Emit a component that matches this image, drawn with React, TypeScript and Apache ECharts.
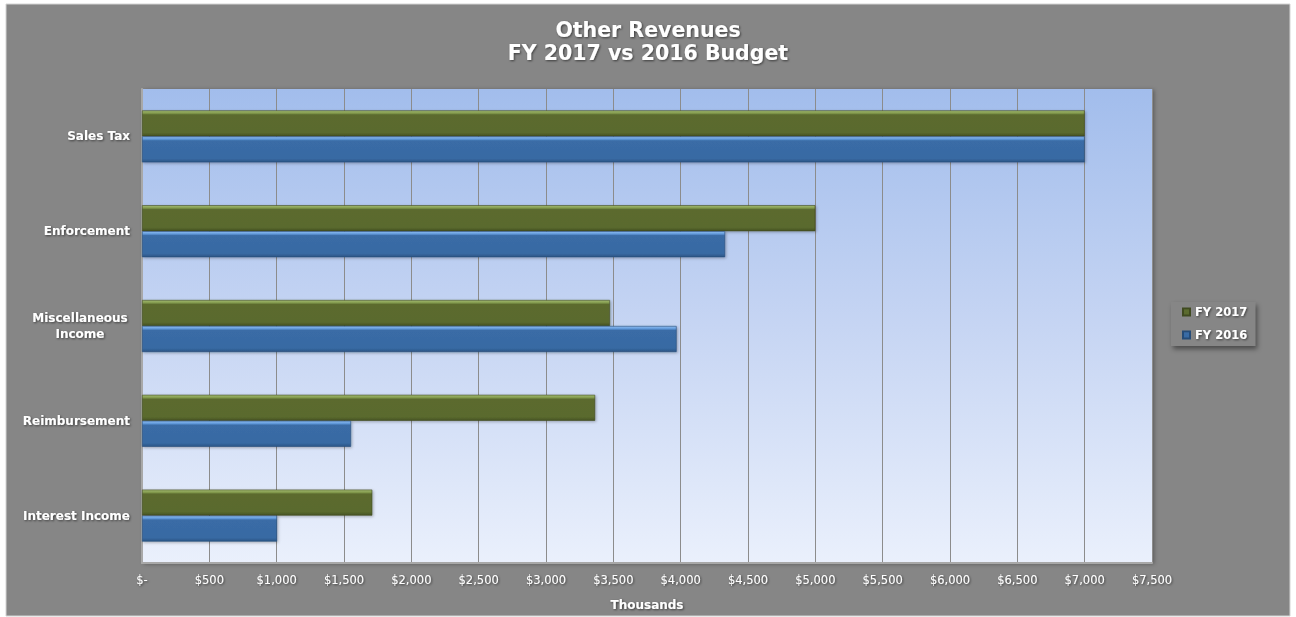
import React, { useEffect, useRef } from "react";
import * as echarts from "echarts";

const categories = ["Sales Tax", "Enforcement", "Miscellaneous\nIncome", "Reimbursement", "Interest Income"];
const fy2017 = [7000, 5000, 3475, 3365, 1710];
const fy2016 = [7000, 4330, 3970, 1552, 1003];
const seriesNames = ["FY 2017", "FY 2016"];
const titleLines = ["Other Revenues", "FY 2017 vs 2016 Budget"];
const axisName = "Thousands";

const FONT = "'DejaVu Sans', Verdana, sans-serif";
const SHADOW = { textShadowColor: "rgba(0,0,0,0.55)", textShadowBlur: 2, textShadowOffsetX: 1, textShadowOffsetY: 1 };

const greenFill = {
  type: "linear", x: 0, y: 0, x2: 0, y2: 1,
  colorStops: [
    { offset: 0, color: "#a3bb72" },
    { offset: 0.1, color: "#82994c" },
    { offset: 0.16, color: "#5b6b2f" },
    { offset: 0.86, color: "#5a6a2e" },
    { offset: 1, color: "#465324" },
  ],
};
const blueFill = {
  type: "linear", x: 0, y: 0, x2: 0, y2: 1,
  colorStops: [
    { offset: 0, color: "#8fbef2" },
    { offset: 0.1, color: "#5f97d8" },
    { offset: 0.16, color: "#3a6ca6" },
    { offset: 0.86, color: "#386aa3" },
    { offset: 1, color: "#2b5586" },
  ],
};

export default function App() {
  const ref = useRef<HTMLDivElement>(null);
  useEffect(() => {
    if (!ref.current) return;
    const chart = echarts.init(ref.current, null, { renderer: "svg" });
    chart.setOption({
      animation: false,
      backgroundColor: "#ffffff",
      graphic: [
        {
          type: "rect",
          z: -10,
          shape: { x: 6, y: 4, width: 1284, height: 612 },
          style: { fill: "#868686", stroke: "#d4d4d4", lineWidth: 1 },
        },
      ],
      title: {
        text: titleLines.join("\n"),
        left: "center",
        top: 13,
        textStyle: { color: "#ffffff", fontFamily: FONT, fontSize: 20.5, fontWeight: "bold", lineHeight: 23, ...SHADOW },
      },
      legend: {
        orient: "vertical",
        left: 1171,
        top: 302,
        padding: [4, 8, 5, 11],
        itemGap: 11,
        itemWidth: 7,
        itemHeight: 7,
        icon: "rect",
        backgroundColor: "#868686",
        shadowColor: "rgba(0,0,0,0.45)",
        shadowBlur: 5,
        shadowOffsetX: 2,
        shadowOffsetY: 3,
        textStyle: { color: "#ffffff", fontFamily: FONT, fontSize: 11.5, fontWeight: "bold", ...SHADOW },
        data: seriesNames,
      },
      grid: {
        left: 142,
        right: 144,
        top: 89,
        bottom: 54,
        show: true,
        borderWidth: 0,
        backgroundColor: {
          type: "linear", x: 0, y: 0, x2: 0, y2: 1,
          colorStops: [
            { offset: 0, color: "#a2bdec" },
            { offset: 0.5, color: "#c6d5f3" },
            { offset: 1, color: "#eaf0fc" },
          ],
        },
        shadowColor: "rgba(0,0,0,0.35)",
        shadowBlur: 4,
        shadowOffsetX: 2,
        shadowOffsetY: 1,
      },
      xAxis: {
        type: "value",
        min: 0,
        max: 7500,
        interval: 500,
        name: axisName,
        nameLocation: "middle",
        nameGap: 36,
        nameTextStyle: { color: "#ffffff", fontFamily: FONT, fontSize: 12, fontWeight: "bold", ...SHADOW },
        axisLine: { show: true, lineStyle: { color: "#a8a8a8", width: 2 } },
        axisTick: { show: false },
        axisLabel: {
          color: "#ffffff",
          fontFamily: FONT,
          fontSize: 11.5,
          margin: 11,
          ...SHADOW,
          formatter: (v: number) => (v === 0 ? "$-" : "$" + v.toLocaleString("en-US")),
        },
        splitLine: { show: true, lineStyle: { color: "#8c8c8c", width: 1 } },
      },
      yAxis: {
        type: "category",
        inverse: true,
        data: categories,
        axisLine: { show: true, lineStyle: { color: "#a8a8a8", width: 2 } },
        axisTick: { show: false },
        axisLabel: {
          color: "#ffffff",
          fontFamily: FONT,
          fontSize: 12,
          fontWeight: "bold",
          margin: 12,
          lineHeight: 16,
          ...SHADOW,
          formatter: (v: string) => {
            const parts = v.split("\n");
            if (parts.length === 1) return v;
            return parts.map((p) => "{c|" + p + "}").join("\n");
          },
          rich: {
            c: {
              width: 100,
              align: "center",
              color: "#ffffff",
              fontFamily: FONT,
              fontSize: 12,
              fontWeight: "bold",
              lineHeight: 16,
              ...SHADOW,
            },
          },
        },
        splitLine: { show: false },
      },
      series: [
        {
          name: seriesNames[0],
          type: "bar",
          data: fy2017,
          barWidth: 26,
          barGap: "0%",
          itemStyle: {
            color: greenFill,
            borderColor: "#3f4a20",
            borderWidth: 0.6,
            shadowColor: "rgba(0,0,0,0.3)",
            shadowBlur: 3,
            shadowOffsetX: 1,
            shadowOffsetY: 1,
          },
        },
        {
          name: seriesNames[1],
          type: "bar",
          data: fy2016,
          barWidth: 26,
          barGap: "0%",
          itemStyle: {
            color: blueFill,
            borderColor: "#264c78",
            borderWidth: 0.6,
            shadowColor: "rgba(0,0,0,0.3)",
            shadowBlur: 3,
            shadowOffsetX: 1,
            shadowOffsetY: 1,
          },
        },
      ],
    });
    return () => chart.dispose();
  }, []);
  return <div ref={ref} style={{ position: "absolute", left: 0, top: 0, width: 1296, height: 617 }} />;
}
